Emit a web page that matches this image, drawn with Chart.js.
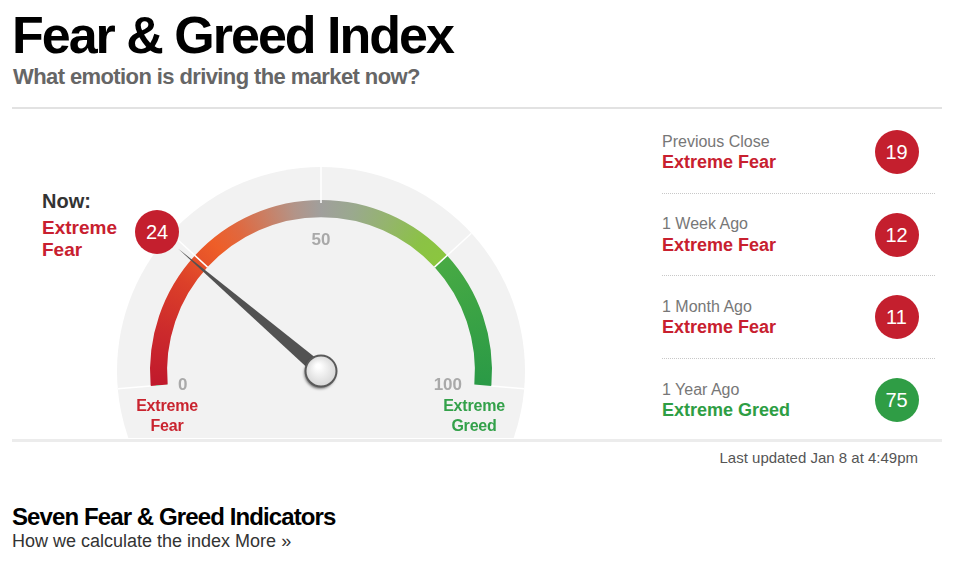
<!DOCTYPE html>
<html><head><meta charset="utf-8">
<script src="https://cdn.jsdelivr.net/npm/chart.js@4"></script>
<style>
html,body{margin:0;padding:0}
body{width:954px;height:562px;background:#fff;font-family:"Liberation Sans",Arial,sans-serif;position:relative;overflow:hidden}
.abs{position:absolute;white-space:nowrap}
#title{left:12px;top:9px;font-size:52px;line-height:52px;font-weight:bold;color:#000;letter-spacing:-2px}
#subtitle{left:13px;top:66px;font-size:22px;line-height:22px;font-weight:bold;color:#666;letter-spacing:-0.6px}
.hr{position:absolute;left:12px;width:930px}
#gauge{position:absolute;left:100px;top:150px;z-index:1}
.now{left:42px;font-weight:bold}
.badge{position:absolute;width:44px;height:44px;border-radius:50%;color:#fff;text-align:center;line-height:44px;font-size:20px;z-index:2}
.glab{position:absolute;font-weight:bold;font-size:16px;line-height:20px;text-align:center;width:100px;z-index:2;letter-spacing:-0.2px}
.rlab{left:662px;font-size:16px;line-height:16px;color:#777}
.rrat{left:662px;font-size:18px;line-height:18px;font-weight:bold}
.dots{position:absolute;left:662px;width:273px;border-top:1px dotted #c8c8c8}
</style></head><body>
<div id="title" class="abs">Fear &amp; Greed Index</div>
<div id="subtitle" class="abs">What emotion is driving the market now?</div>
<div class="hr" style="top:107px;height:2px;background:#e2e2e2"></div>
<canvas id="gauge" width="440" height="290"></canvas>
<div class="hr" style="top:439px;height:3px;background:#ececec"></div>
<div id="nowBlock"></div>
<div id="history"></div>
<div id="updated" class="abs" style="right:36px;top:450px;font-size:15px;line-height:15px;color:#555">Last updated Jan 8 at 4:49pm</div>
<div class="abs" style="left:12px;top:505px;font-size:24px;line-height:24px;font-weight:bold;color:#000;letter-spacing:-0.9px">Seven Fear &amp; Greed Indicators</div>
<div class="abs" style="left:12px;top:532px;font-size:18px;line-height:18px;color:#333">How we calculate the index More »</div>
<script>
// ---- data ----
const zoneLabels = ['Extreme Fear', 'Fear', 'Greed', 'Extreme Greed'];
const zoneSizes = [25, 25, 25, 25];
const nowValue = 24;
const nowRating = ['Extreme', 'Fear'];
const scaleTicks = ['0', '50', '100'];
const endLabels = [['Extreme', 'Fear'], ['Extreme', 'Greed']];
const historyLabels = ['Previous Close', '1 Week Ago', '1 Month Ago', '1 Year Ago'];
const historyValues = [19, 12, 11, 75];
const historyRatings = ['Extreme Fear', 'Extreme Fear', 'Extreme Fear', 'Extreme Greed'];

const RED = '#c41f2e', GREEN = '#2f9d45';
const TXT_RED = '#c8202f', TXT_GREEN = '#2e9e44';
const colorFor = v => v >= 50 ? GREEN : RED;
const txtFor = v => v >= 50 ? TXT_GREEN : TXT_RED;

// ---- left "Now" block ----
const nb = document.getElementById('nowBlock');
nb.innerHTML =
  '<div class="abs now" style="top:191px;font-size:20px;line-height:20px;color:#333">Now:</div>' +
  '<div class="abs now" style="top:217px;font-size:19px;line-height:22px;color:' + txtFor(nowValue) + '">' + nowRating.join('<br>') + '</div>' +
  '<div class="badge" style="left:135px;top:210px;background:' + colorFor(nowValue) + '">' + nowValue + '</div>';
const endX = [167, 474];
endLabels.forEach((l, i) => {
  const d = document.createElement('div');
  d.className = 'glab';
  d.style.left = (endX[i] - 50) + 'px';
  d.style.top = '396px';
  d.style.color = i === 0 ? '#c9242f' : '#33a14a';
  d.innerHTML = l.join('<br>');
  document.body.appendChild(d);
});

// ---- history panel ----
const hist = document.getElementById('history');
let html = '';
historyLabels.forEach((lab, i) => {
  const y = 133.5 + 82.7 * i;
  html += '<div class="abs rlab" style="top:' + y + 'px">' + lab + '</div>';
  html += '<div class="abs rrat" style="top:' + (y + 19.5) + 'px;color:' + txtFor(historyValues[i]) + '">' + historyRatings[i] + '</div>';
  html += '<div class="badge" style="left:874.5px;top:' + (130 + 82.7 * i) + 'px;background:' + colorFor(historyValues[i]) + '">' + historyValues[i] + '</div>';
  if (i < historyLabels.length - 1) html += '<div class="dots" style="top:' + (192.5 + 82.7 * i) + 'px"></div>';
});
hist.innerHTML = html;

// ---- gauge ----
const SPAN = 190, ROT = -95;
const START = (ROT - 90) * Math.PI / 180;
const angleOf = v => START + (v / 100) * SPAN * Math.PI / 180;

function geom(chart) {
  const ctrl = chart.getDatasetMeta(0).controller;
  const ca = chart.chartArea;
  return { cx: (ca.left + ca.right) / 2 + (ctrl.offsetX || 0), cy: (ca.top + ca.bottom) / 2 + (ctrl.offsetY || 0),
           r: ctrl.outerRadius, ir: ctrl.innerRadius, ok: Number.isFinite(ctrl.offsetY) };
}
const gradStops = [
  [0, '#c0192c'], [10, '#cc2a2c'], [20, '#dc4029'], [25, '#e6532a'], [29, '#ee5e28'],
  [34, '#e0683f'], [40, '#c98066'], [45, '#b39488'], [50, '#a09f9c'], [56, '#9aa98e'],
  [63, '#94b56b'], [70, '#8bc245'], [74.9, '#8bc63f'], [75, '#48aa44'], [100, '#2a9a46']
];
function bandColor(c) {
  const chart = c.chart;
  if (!chart.chartArea) return '#aaa';
  const g = geom(chart);
  if (!g.ok || !Number.isFinite(g.cx) || !Number.isFinite(g.cy)) return '#aaa';
  const grad = chart.ctx.createConicGradient(START, g.cx, g.cy);
  gradStops.forEach(([v, col]) => grad.addColorStop((v / 100) * SPAN / 360, col));
  return grad;
}

const gaugePlugin = {
  id: 'gaugeDeco',
  beforeDatasetsDraw(chart) {
    const ctx = chart.ctx, g = geom(chart);
    const R = g.r * 204 / 171;
    ctx.save();
    ctx.beginPath();
    ctx.rect(0, 0, chart.width, g.cy + 67);
    ctx.clip();
    ctx.beginPath();
    ctx.arc(g.cx, g.cy, R, 0, Math.PI * 2);
    ctx.fillStyle = '#f2f2f2';
    ctx.fill();
    ctx.restore();
  },
  afterDatasetsDraw(chart) {
    const ctx = chart.ctx, g = geom(chart);
    const R = g.r * 204 / 171;
    ctx.save();
    ctx.strokeStyle = '#ffffff';
    ctx.lineWidth = 1.5;
    [0, 25, 50, 75, 100].forEach(v => {
      const a = angleOf(v);
      const r0 = (v === 0 || v === 100) ? g.r : (v === 50 ? g.r - 3 : g.ir);
      ctx.beginPath();
      ctx.moveTo(g.cx + Math.cos(a) * r0, g.cy + Math.sin(a) * r0);
      ctx.lineTo(g.cx + Math.cos(a) * R, g.cy + Math.sin(a) * R);
      ctx.stroke();
    });
    ctx.font = 'bold 17px "Liberation Sans", Arial, sans-serif';
    ctx.fillStyle = '#a9a9a9';
    ctx.textBaseline = 'alphabetic';
    ctx.textAlign = 'left';   ctx.fillText(scaleTicks[0], g.cx - 143, g.cy + 19);
    ctx.textAlign = 'center'; ctx.fillText(scaleTicks[1], g.cx, g.cy - 126);
    ctx.textAlign = 'right';  ctx.fillText(scaleTicks[2], g.cx + 141, g.cy + 19);
    const a = angleOf(nowValue);
    const tipR = 188, hw = 7;
    const tx = g.cx + Math.cos(a) * tipR, ty = g.cy + Math.sin(a) * tipR;
    const px = -Math.sin(a) * hw, py = Math.cos(a) * hw;
    ctx.beginPath();
    ctx.moveTo(tx, ty);
    ctx.lineTo(g.cx + px, g.cy + py);
    ctx.lineTo(g.cx - px, g.cy - py);
    ctx.closePath();
    ctx.fillStyle = '#525252';
    ctx.fill();
    ctx.shadowColor = 'rgba(0,0,0,0.6)';
    ctx.shadowBlur = 3;
    ctx.shadowOffsetX = -1;
    ctx.shadowOffsetY = 2;
    const rg = ctx.createRadialGradient(g.cx - 3, g.cy - 5, 2, g.cx, g.cy, 16);
    rg.addColorStop(0, '#ffffff');
    rg.addColorStop(1, '#d6d6d6');
    ctx.beginPath();
    ctx.arc(g.cx, g.cy, 15.5, 0, Math.PI * 2);
    ctx.fillStyle = rg;
    ctx.fill();
    ctx.shadowColor = 'transparent';
    ctx.lineWidth = 2;
    ctx.strokeStyle = '#5a5a5a';
    ctx.stroke();
    ctx.restore();
  }
};

new Chart(document.getElementById('gauge'), {
  type: 'doughnut',
  data: { labels: zoneLabels, datasets: [{ data: zoneSizes, backgroundColor: bandColor,
          borderWidth: 0, hoverOffset: 0, offset: 0 }] },
  options: {
    responsive: false, animation: false, events: [],
    rotation: ROT, circumference: SPAN, cutout: '90%',
    layout: { padding: { left: 50, right: 48, top: 43, bottom: 47 } },
    plugins: { legend: { display: false }, tooltip: { enabled: false } }
  },
  plugins: [gaugePlugin]
});
</script>
</body></html>
